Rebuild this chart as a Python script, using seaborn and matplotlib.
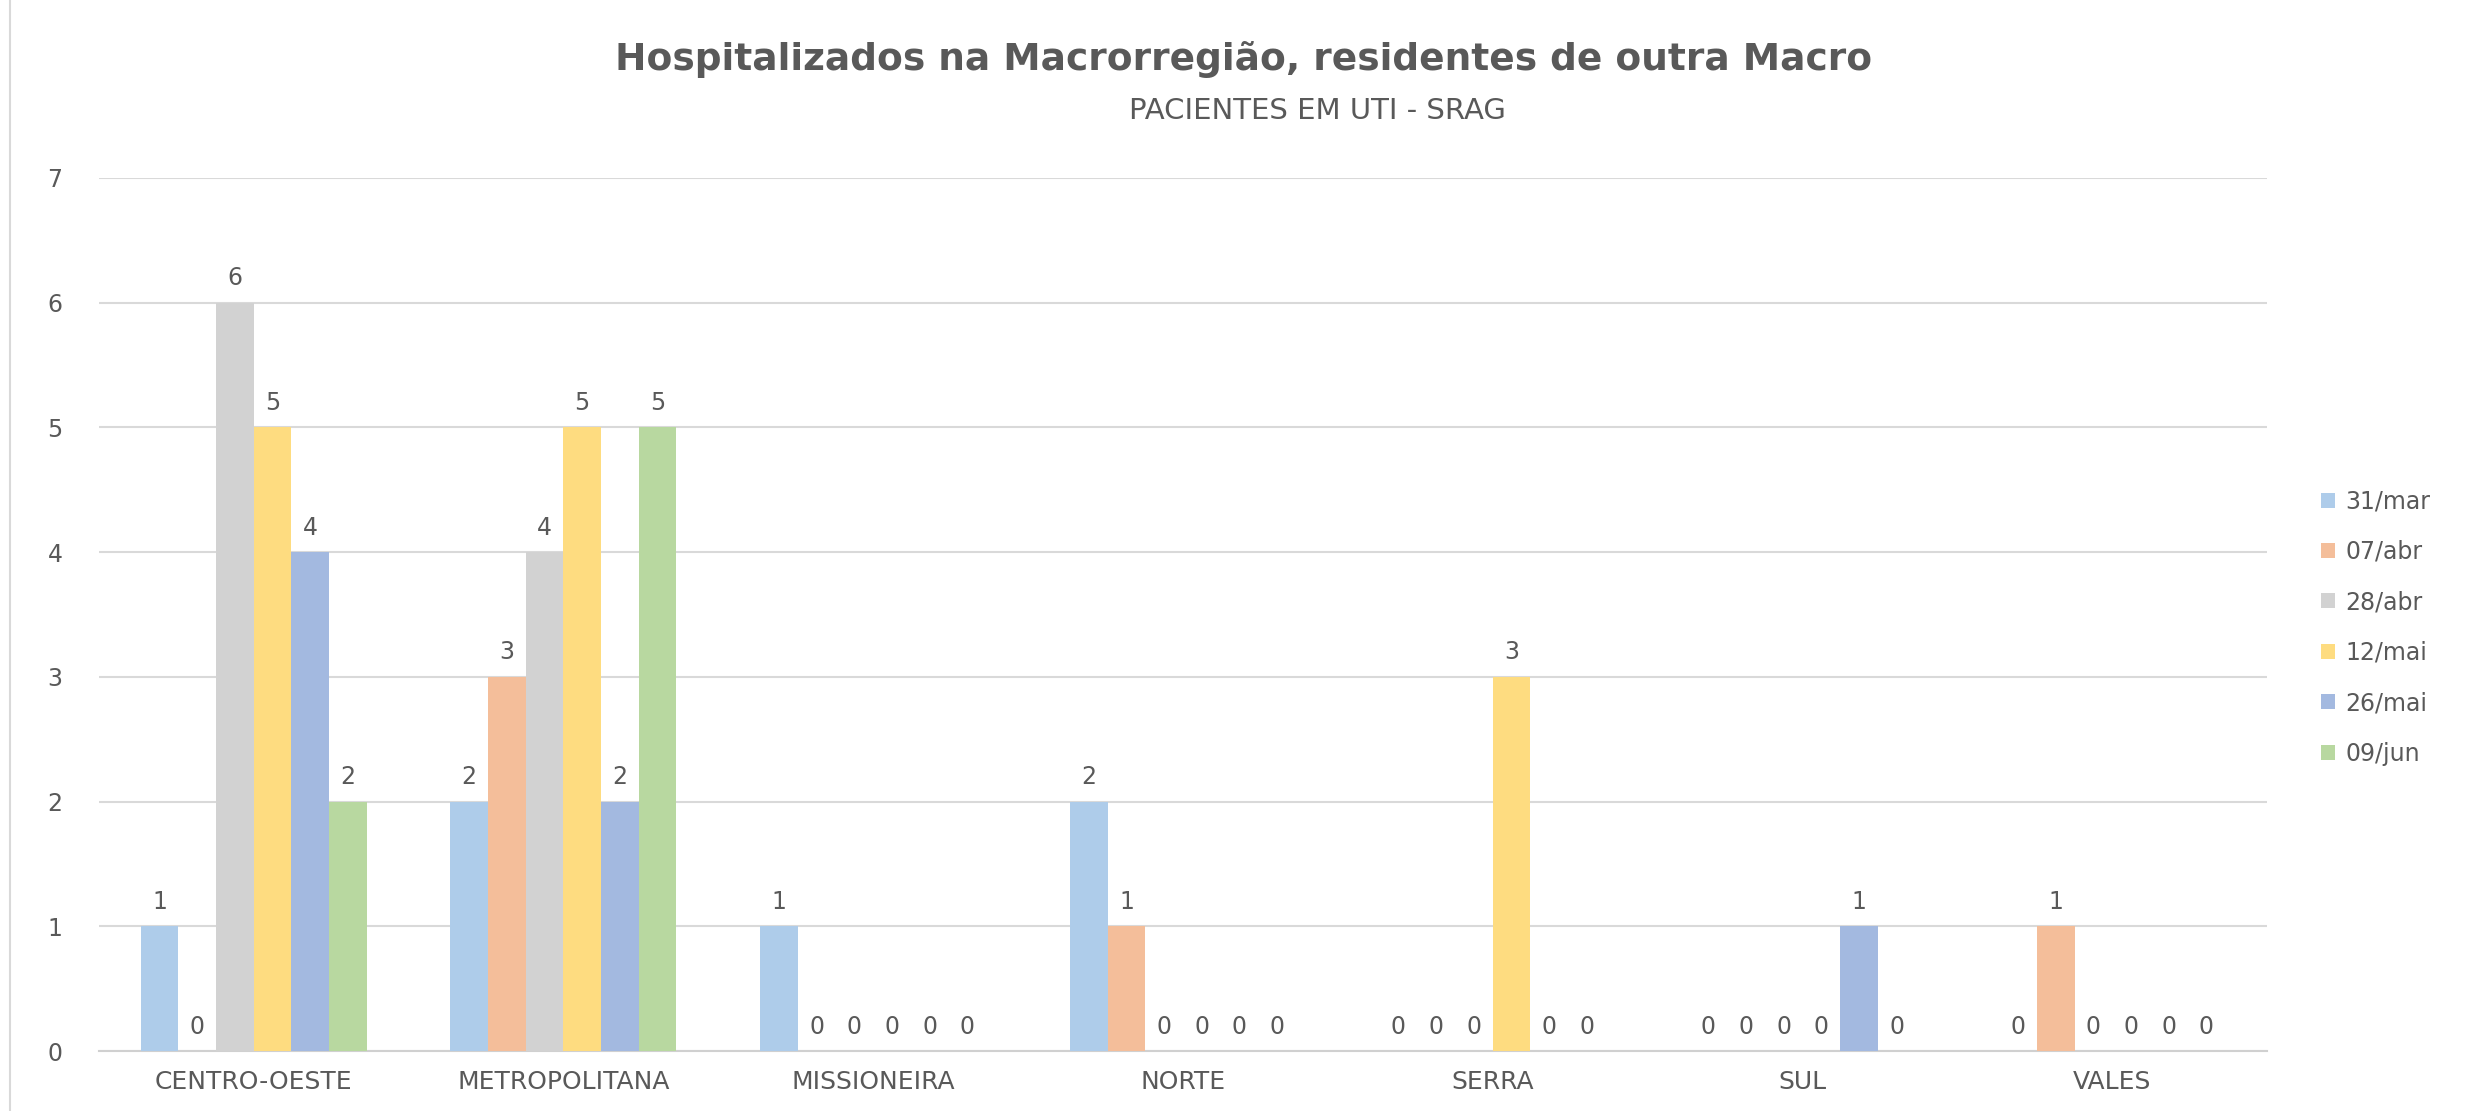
import matplotlib.pyplot as plt
import seaborn as sns
import pandas as pd


categories = ['CENTRO-OESTE', 'METROPOLITANA', 'MISSIONEIRA', 'NORTE', 'SERRA', 'SUL', 'VALES']
dates = ['31/mar', '07/abr', '28/abr', '12/mai', '26/mai', '09/jun']

v_31mar = [1, 2, 1, 2, 0, 0, 0]
v_07abr = [0, 3, 0, 1, 0, 0, 1]
v_28abr = [6, 4, 0, 0, 0, 0, 0]
v_12mai = [5, 5, 0, 0, 3, 0, 0]
v_26mai = [4, 2, 0, 0, 0, 1, 0]
v_09jun = [2, 5, 0, 0, 0, 0, 0]

colors = ['#AECCEA', '#F4BE9A', '#D2D2D2', '#FEDC80', '#A3B9E0', '#B8D8A0']
txt = '#595959'

series = [v_31mar, v_07abr, v_28abr, v_12mai, v_26mai, v_09jun]
df = pd.DataFrame([(c, d, v) for d, vals in zip(dates, series)
                   for c, v in zip(categories, vals)],
                  columns=['macro', 'data', 'n'])

sns.set_style('white')
plt.rcParams['font.family'] = ['DejaVu Sans']

fig, ax = plt.subplots(figsize=(24.68, 11.11), dpi=100)
fig.subplots_adjust(left=0.040, right=0.9186, top=0.840, bottom=0.054)

sns.barplot(data=df, x='macro', y='n', hue='data', order=categories,
            hue_order=dates, palette=colors, width=0.73, gap=0,
            saturation=1, errorbar=None, linewidth=0, ax=ax, zorder=3)

for cont in ax.containers:
    ax.bar_label(cont, fmt='%d', padding=9, fontsize=17, color=txt)

ax.set_ylim(0, 7)
ax.set_xlim(-0.5, len(categories) - 0.5)
ax.set_yticks(range(8))
ax.yaxis.grid(True, color='#D9D9D9', linewidth=1.5, zorder=0)
ax.set_xlabel('')
ax.set_ylabel('')
ax.tick_params(axis='y', labelsize=17, labelcolor=txt, length=0, pad=26)
ax.tick_params(axis='x', labelsize=18, labelcolor=txt, length=0, pad=14)
sns.despine(ax=ax, left=True, right=True, top=True)
ax.spines['bottom'].set_color('#D0D0D0')
ax.spines['bottom'].set_linewidth(1.5)

ax.legend(loc='center left', bbox_to_anchor=(1.015, 0.485), frameon=False,
          fontsize=17, labelcolor=txt, handlelength=0.6, handleheight=0.6,
          handletextpad=0.45, labelspacing=1.12)

fig.text(0.504, 0.946, 'Hospitalizados na Macrorregião, residentes de outra Macro',
         ha='center', va='center', fontsize=27, fontweight='bold', color=txt)
fig.text(0.534, 0.900, 'PACIENTES EM UTI - SRAG', ha='center', va='center',
         fontsize=21, color=txt)

fig.add_artist(plt.Line2D([0.004, 0.004], [0, 1], color='#D9D9D9', linewidth=1.5))

fig.savefig('out.png', dpi=100)
